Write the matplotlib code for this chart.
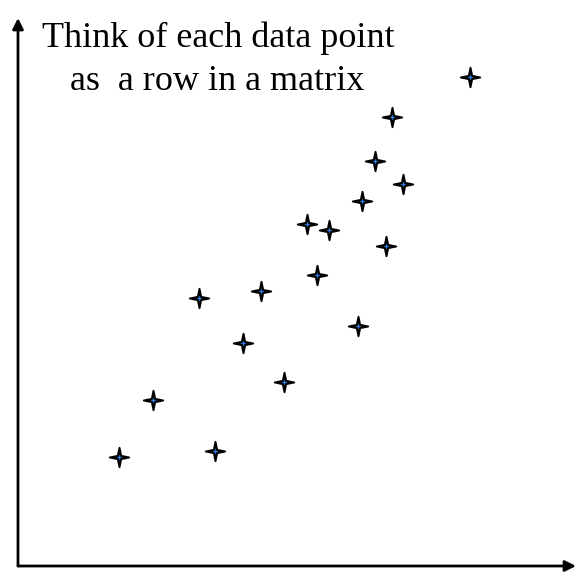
import numpy as np
import matplotlib.pyplot as plt
from matplotlib.path import Path

# points (x right, y up, arbitrary units)
xs = [119, 153, 199, 215, 243, 261, 284, 307, 317, 329, 358, 362, 375, 386, 392, 403, 470]
ys = [119, 176, 278, 125, 233, 285, 194, 352, 301, 346, 250, 375, 415, 330, 459, 392, 499]

title_lines = ["Think of each data point", "as  a row in a matrix"]

W, H = 586, 576


def star_path(inner=0.16):
    verts = []
    for k in range(8):
        ang = np.pi / 2 + k * np.pi / 4
        r = 1.0 if k % 2 == 0 else inner
        verts.append((r * np.cos(ang), r * np.sin(ang)))
    verts.append(verts[0])
    codes = [Path.MOVETO] + [Path.LINETO] * 7 + [Path.CLOSEPOLY]
    return Path(verts, codes)


fig = plt.figure(figsize=(W / 100, H / 100), dpi=100)
ax = fig.add_axes([0, 0, 1, 1])
ax.set_xlim(0, W)
ax.set_ylim(0, H)
ax.axis('off')

# axes with arrow heads
arrow = dict(arrowstyle='-|>', color='black', lw=2, mutation_scale=16,
             shrinkA=0, shrinkB=0)
ax.annotate('', xy=(18, 558), xytext=(18, 10), arrowprops=arrow)
ax.annotate('', xy=(576, 10), xytext=(18, 10), arrowprops=arrow)

ax.scatter(xs, ys, marker=star_path(0.24), s=14 ** 2, c='black', linewidths=1.4,
           edgecolors='black', zorder=3)
ax.scatter(xs, ys, marker=star_path(0.35), s=4.5 ** 2, c='#2f7fe0', linewidths=0,
           zorder=4)

ax.text(42, 529, title_lines[0], fontsize=26, family='Liberation Serif',
        ha='left', va='baseline')
ax.text(70, 486, title_lines[1], fontsize=26, family='Liberation Serif',
        ha='left', va='baseline')

fig.savefig('out.png', dpi=100)
